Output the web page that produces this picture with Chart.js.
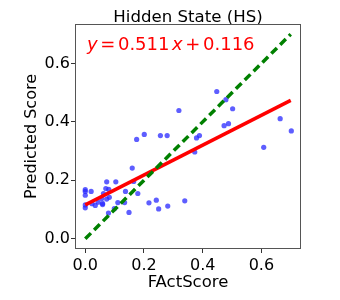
<!DOCTYPE html>
<html>
<head>
<meta charset="utf-8">
<script src="https://cdn.jsdelivr.net/npm/chart.js@4/dist/chart.umd.min.js"></script>
<style>
html,body{margin:0;padding:0;background:#fff;}
#wrap{width:340px;height:300px;}
</style>
</head>
<body>
<div id="wrap"><canvas id="c" width="340" height="300"></canvas></div>
<script>
const titleText = "Hidden State (HS)";
const xLabel = "FActScore";
const yLabel = "Predicted Score";
const tickValues = [0.0, 0.2, 0.4, 0.6];

const factScore = [0.448,0.479,0.502,0.319,0.664,0.473,0.488,0.702,0.175,0.201,0.256,0.279,0.379,0.389,0.608,0.373,
  0.160,0.165,0.179,0.217,0.242,0.250,0.281,0.339,0.149,0.137,0.134,0.111,0.104,0.073,0.070,0.080,
  0.062,0.082,0.073,0.056,0.059,0.059,0.034,0.023,0.020,0.000,0.000,0.000,0.000,0.000,0.099,0.079,0.044];
const predicted = [0.504,0.476,0.445,0.439,0.411,0.387,0.394,0.369,0.340,0.357,0.353,0.353,0.345,0.353,0.313,0.297,
  0.242,0.196,0.155,0.123,0.132,0.102,0.112,0.130,0.090,0.162,0.124,0.124,0.195,0.195,0.172,0.169,
  0.155,0.142,0.136,0.138,0.117,0.121,0.114,0.120,0.162,0.168,0.162,0.149,0.116,0.106,0.103,0.088,0.125];

const slope = 0.511, intercept = 0.116;
const lineX = [0.0, 0.7];

const scatterData = factScore.map((v,i)=>({x:v,y:predicted[i]}));
const fitData = lineX.map(v=>({x:v,y:slope*v+intercept}));
const diagData = lineX.map(v=>({x:v,y:v}));

const FONT = "'DejaVu Sans', sans-serif";

const decor = {
  id:'decor',
  afterDraw(chart){
    const ctx = chart.ctx, a = chart.chartArea;
    ctx.save();
    // title
    ctx.fillStyle = '#000';
    ctx.font = "16.6px " + FONT;
    ctx.textAlign = 'center';
    ctx.textBaseline = 'alphabetic';
    ctx.fillText(titleText, (a.left+a.right)/2, 21.5);
    // equation
    const parts = [
      {t:'y', it:true},{t:'=', it:false},{t:slope.toFixed(3), it:false},
      {t:'x', it:true},{t:'+', it:false},{t:intercept.toFixed(3), it:false}
    ];
    ctx.fillStyle = '#ff0000';
    ctx.textAlign = 'left';
    let x = a.left + 12;
    const gap = 2.6;
    parts.forEach((p,i)=>{
      ctx.font = (p.it ? 'italic ' : '') + '18px ' + FONT;
      ctx.fillText(p.t, x, 49.5);
      x += ctx.measureText(p.t).width + gap;
    });
    // frame
    ctx.strokeStyle = '#555';
    ctx.lineWidth = 1;
    ctx.strokeRect(a.left+0.5, a.top+0.5, a.right-a.left-1, a.bottom-a.top-1);
    ctx.restore();
  }
};

new Chart(document.getElementById('c'), {
  type:'scatter',
  data:{
    datasets:[
      {label:'points', data:scatterData, backgroundColor:'rgba(40,40,255,0.75)', borderWidth:0, pointRadius:2.6, order:3},
      {label:'diag', type:'line', data:diagData, borderColor:'#008000', borderWidth:3.5, borderDash:[8,4.5], pointRadius:0, fill:false, order:1},
      {label:'fit', type:'line', data:fitData, borderColor:'#ff0000', borderWidth:3.5, pointRadius:0, fill:false, order:2}
    ]
  },
  options:{
    responsive:false,
    animation:false,
    devicePixelRatio:1,
    layout:{padding:{top:24,right:39,left:0,bottom:0}},
    plugins:{legend:{display:false}, tooltip:{enabled:false}, title:{display:false}},
    scales:{
      x:{
        type:'linear', min:-0.035, max:0.735,
        afterBuildTicks(s){ s.ticks = tickValues.map(v=>({value:v})); },
        afterFit(s){ s.height = 51; },
        grid:{drawOnChartArea:false, drawTicks:true, tickLength:4, color:'#333'},
        border:{display:false},
        ticks:{color:'#000', padding:3, font:{family:FONT, size:16}, callback:v=>v.toFixed(1), maxRotation:0},
        title:{display:true, text:xLabel, color:'#000', font:{family:FONT, size:16.5}, padding:{top:0,bottom:7}}
      },
      y:{
        type:'linear', min:-0.035, max:0.735,
        afterBuildTicks(s){ s.ticks = tickValues.map(v=>({value:v})); },
        afterFit(s){ s.width = 75; },
        grid:{drawOnChartArea:false, drawTicks:true, tickLength:4, color:'#333'},
        border:{display:false},
        ticks:{color:'#000', padding:1, font:{family:FONT, size:16}, callback:v=>v.toFixed(1)},
        title:{display:true, text:yLabel, color:'#000', font:{family:FONT, size:16}, padding:{top:22,bottom:0}}
      }
    }
  },
  plugins:[decor]
});
</script>
</body>
</html>
